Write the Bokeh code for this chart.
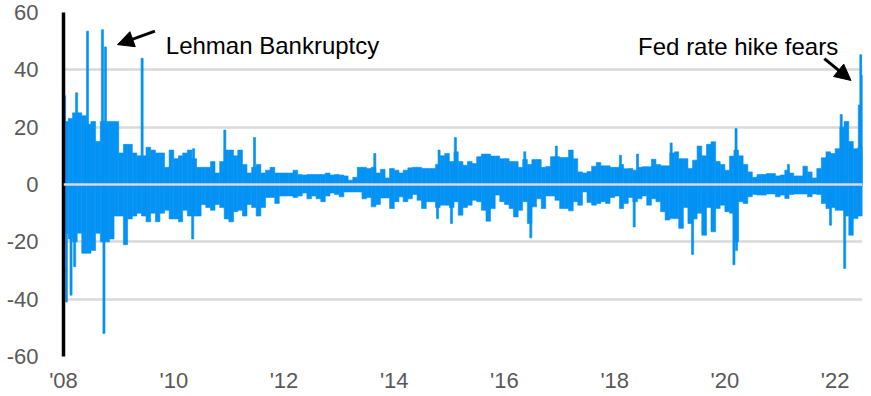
import pandas as pd
from bokeh.plotting import figure
from bokeh.models import (Range1d, FixedTicker, CustomJSTickFormatter, Span, Label,
                          Arrow, NormalHead, ColumnDataSource)
from bokeh.embed import file_html
from bokeh.resources import INLINE

# ---------------- data ----------------
start_month = "2008-01-01"
# monthly typical upper envelope (Jan 2008 .. Jun 2022)
pos_body = [
    22, 23, 25, 25, 24, 21, 22, 15, 22, 22, 22, 22,            # 2008
    11, 14, 14, 11, 10, 10, 13, 12, 11, 11, 6, 12,             # 2009
    9, 10, 11, 12, 9, 6, 6, 6, 8, 4, 8, 12,                    # 2010
    12, 10, 12, 7, 4, 6, 7, 4, 5, 6, 4, 4,                     # 2011
    4, 4, 5, 3.5, 3.3, 3.5, 3.5, 3.5, 3.5, 4, 3.3, 3.5,        # 2012
    3.3, 3, 1.5, 2.5, 6, 6, 5.6, 6, 4, 5.3, 2.3, 5.6,          # 2013
    5, 4, 5, 5.8, 6, 6, 5.6, 5.6, 5.6, 7, 10, 10.8,            # 2014
    8, 11.4, 8, 6.7, 8, 7.3, 9.7, 10.6, 10.6, 9.9, 9.9, 9,     # 2015
    9, 8, 8, 6, 8.7, 7, 8.7, 8.7, 6, 6.3, 9.7, 9.7,            # 2016
    9.4, 9.4, 12, 9, 4.4, 4, 4.5, 6.4, 7.7, 6.5, 6.5, 6,       # 2017
    6, 7, 5.5, 5.6, 5, 6, 6.2, 6.2, 8.8, 7, 6.5, 6.5,          # 2018
    11, 11.4, 9, 9, 5.6, 8.5, 13.4, 10, 14, 14.9, 8, 7,        # 2019
    5, 9.9, 12, 10, 7, 4.4, 2.5, 3.5, 3.5, 3.8, 3.8, 3,        # 2020
    3.3, 5, 4, 3, 3, 6.4, 4.4, 2.3, 5.6, 9.3, 11.4, 10.8,      # 2021
    12.5, 20, 22, 15, 12.5, 13,                                # 2022
]
# monthly typical lower envelope
neg_body = [
    -17, -19, -20, -17, -24, -24, -23, -17, -20, -20, -19, -11,
    -11, -21, -12, -11, -10, -11, -13, -10, -13, -10, -9, -12,
    -12, -13, -9, -11, -11, -11, -7, -8, -9, -7, -8, -12,
    -13, -9.5, -9, -11, -7, -8, -11, -8, -4.5, -4.5, -6.6, -4,
    -4, -4, -4.5, -4, -3, -5, -4, -5, -6, -4, -3, -3.5,
    -4.3, -2.6, -2.6, -2.6, -2.6, -5, -4.5, -7.8, -7, -4.7, -4.7, -8.4,
    -6, -4.3, -6, -5, -3.5, -5.5, -8.4, -6, -6, -8, -7.2, -7.2,
    -8, -6, -10.7, -8, -7.2, -5.5, -6, -9, -12.8, -8.4, -3.7, -6,
    -7, -8.4, -11.3, -9, -6, -13.6, -7.8, -5, -8.4, -4, -4, -5.5,
    -8.4, -8.4, -9.2, -6, -7.2, -2.6, -6.3, -7.2, -6.6, -6, -6.6, -4.5,
    -4, -8.4, -6.6, -4.5, -6, -5, -4, -7.2, -5, -6, -9.5, -12.4,
    -11.9, -11.9, -15.3, -8, -13.6, -12, -10, -17.7, -8, -16.5, -8.4, -7.2,
    -9.5, -10, -20, -6, -6.6, -4.3, -3.5, -3.7, -3.7, -3.3, -3.3, -4.3,
    -3.7, -4.9, -3.5, -3.3, -3.3, -3.3, -4.3, -3.3, -3.5, -6.6, -8.4, -8,
    -9, -9, -11, -17.7, -11.9, -11,
]
# individual daily spikes beyond the envelope
spike_dates = [
    "2008-01-08", "2008-03-28", "2008-06-08", "2008-09-15", "2008-10-05",
    "2009-06-05", "2010-05-12", "2010-12-05", "2011-06-20", "2013-08-25",
    "2014-10-25", "2015-02-10", "2016-05-15", "2016-12-10", "2018-02-08",
    "2018-06-01", "2019-01-10", "2020-03-15", "2021-02-25", "2022-02-10",
    "2022-06-10", "2022-06-20", "2022-06-28",
    "2008-01-20", "2008-02-20", "2008-03-15", "2008-09-25", "2010-05-06",
    "2014-10-15", "2015-01-15", "2016-06-24", "2018-05-10", "2019-06-01",
    "2020-03-01", "2020-03-18", "2021-12-01", "2022-03-05",
]
spike_values = [
    31, 32, 53.5, 54, 48,
    44, 12.5, 19, 16.4, 10.8,
    12, 16.4, 11.4, 13.4, 10.2,
    10.6, 14.5, 19.5, 7, 24.4,
    27.7, 45.3, 38,
    -41, -38.6, -28.7, -52, -19,
    -11.9, -13.6, -18.6, -14.8, -24.4,
    -28, -23, -14.2, -29.3,
]
year_ticks = ["2008", "2010", "2012", "2014", "2016", "2018", "2020", "2022"]
y_ticks = [-60, -40, -20, 0, 20, 40, 60]

BLUE = "#0492f4"
GRID = "#d9d9d9"
TXT = "#595959"
FONT = "Liberation Sans"

# ---------------- build ----------------
m_start = pd.date_range(start_month, periods=len(pos_body), freq="MS")
m_end = m_start + pd.offsets.MonthBegin(1)
body = ColumnDataSource(dict(left=list(m_start) * 2, right=list(m_end) * 2,
                             top=pos_body + [0] * len(neg_body),
                             bottom=[0] * len(pos_body) + neg_body))
sd = pd.to_datetime(spike_dates)
half = pd.Timedelta(days=7)
spikes = ColumnDataSource(dict(left=sd - half, right=sd + half,
                               top=[max(v, 0) for v in spike_values],
                               bottom=[min(v, 0) for v in spike_values]))

x0 = pd.Timestamp("2008-01-01")
x1 = pd.Timestamp("2022-07-01")
p = figure(frame_width=799, frame_height=344, output_backend="svg", toolbar_location=None,
           x_axis_type="datetime",
           x_range=Range1d(x0, x1), y_range=Range1d(-60, 60),
           min_border_left=63, min_border_right=6, min_border_top=12, min_border_bottom=34)
p.outline_line_color = None
p.background_fill_color = "white"

p.quad(left="left", right="right", top="top", bottom="bottom", source=body,
       fill_color=BLUE, line_color=BLUE, line_width=0.6)
p.quad(left="left", right="right", top="top", bottom="bottom", source=spikes,
       fill_color=BLUE, line_color=BLUE, line_width=0.6)

p.add_layout(Span(location=0, dimension="width", line_color=GRID, line_width=2.5))

# axes
p.xgrid.grid_line_color = None
p.ygrid.grid_line_color = GRID
p.ygrid.grid_line_width = 2.5
p.ygrid.ticker = FixedTicker(ticks=y_ticks)

ya = p.yaxis[0]
ya.ticker = FixedTicker(ticks=y_ticks)
ya.formatter = CustomJSTickFormatter(code="return String(tick);")
ya.axis_line_color = "black"
ya.axis_line_width = 3.5
ya.major_tick_line_color = None
ya.minor_tick_line_color = None
ya.major_label_standoff = 19
ya.major_label_text_font = FONT
ya.major_label_text_font_size = "22px"
ya.major_label_text_color = TXT

xa = p.xaxis[0]
xa.ticker = FixedTicker(ticks=[pd.Timestamp(y).value / 1e6 for y in year_ticks])
xa.formatter = CustomJSTickFormatter(code="return \"'\" + String(new Date(tick).getUTCFullYear()).slice(2);")
xa.axis_line_color = None
xa.major_tick_line_color = None
xa.minor_tick_line_color = None
xa.major_label_standoff = 5
xa.major_label_text_font = FONT
xa.major_label_text_font_size = "22px"
xa.major_label_text_color = TXT


def ms(d):
    return pd.Timestamp(d).value / 1e6


p.add_layout(Label(x=ms("2009-11-09"), y=48.6, text="Lehman Bankruptcy",
                   text_font=FONT, text_font_size="24px", text_color="black",
                   text_baseline="alphabetic", text_align="left"))
p.add_layout(Label(x=ms("2022-01-21"), y=48.0, text="Fed rate hike fears",
                   text_font=FONT, text_font_size="24px", text_color="black",
                   text_baseline="alphabetic", text_align="right"))
p.add_layout(Arrow(x_start=ms("2009-08-29"), y_start=53.5, x_end=ms("2008-12-24"), y_end=48.8,
                   line_width=3, line_color="black",
                   end=NormalHead(size=16, fill_color="black", line_color="black")))
p.add_layout(Arrow(x_start=ms("2021-10-21"), y_start=43.9, x_end=ms("2022-04-16"), y_end=36.3,
                   line_width=3, line_color="black",
                   end=NormalHead(size=16, fill_color="black", line_color="black")))

open("out.html", "w").write(file_html(p, INLINE))
